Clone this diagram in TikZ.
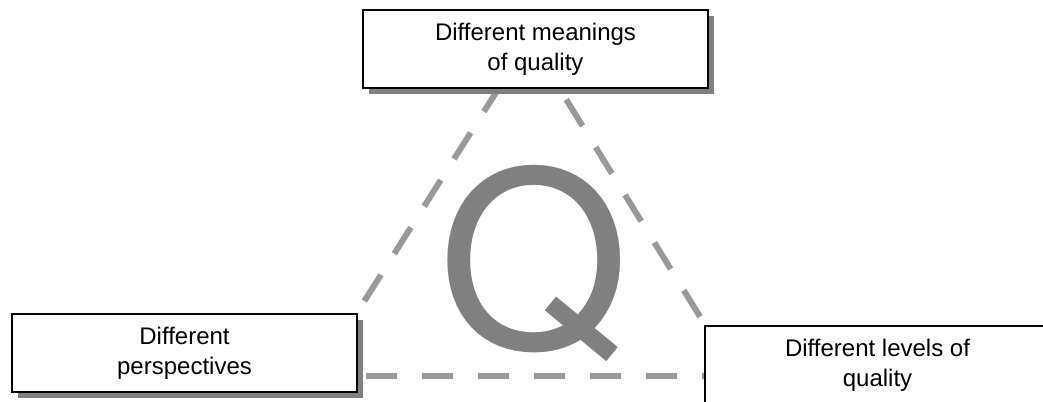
\documentclass[tikz,border=0pt]{standalone}
\usepackage{fontspec}
\setmainfont{Liberation Sans}
\newfontfamily\qfont{TeX Gyre Heros}
\usetikzlibrary{shadows,calc}
\definecolor{dashgray}{HTML}{999999}
\definecolor{qgray}{HTML}{808080}
\definecolor{shadowgray}{HTML}{808080}
\pgfdeclarelayer{background}
\pgfsetlayers{background,main}
\begin{document}
\begin{tikzpicture}[x=0.75pt,y=-0.75pt,
  box/.style={draw=black, line width=1.5pt, fill=white,
    minimum width=258.75pt, minimum height=59pt, align=center, inner sep=0pt,
    font=\fontsize{18}{22.5}\selectfont,
    drop shadow={shadow xshift=4.5pt, shadow yshift=-4.5pt, fill=shadowgray, opacity=1}},
  tri/.style={draw=dashgray, line width=4.5pt, dash pattern=on 23.25pt off 18.75pt}]
\clip (0,0) rectangle (1043,402);
\node[box] (top) at (535.5,49) {Different meanings\\of quality};
\node[box] (left) at (184.5,353) {Different\\perspectives};
\node[box] (right) at (877.5,365) {Different levels of\\quality};
\node[anchor=base, text=qgray, inner sep=0pt, font=\qfont\fontsize{184}{184}\selectfont] (q) at (534,349) {Q};
\coordinate (tl) at ($(top.south west)+(136,0)$);
\coordinate (tr) at ($(top.south west)+(198,0)$);
\coordinate (b1) at ($(left.north east)+(8,63.5)$);
\coordinate (b2) at ($(right.north west)+(0,51.5)$);
\begin{pgfonlayer}{background}
\draw[tri, dash phase=33pt] ($(left.north east)+(0,-1.5)$) -- (tl);
\draw[tri, dash phase=33pt] (tr) -- ($(right.north west)+(0,-1.5)$);
\draw[tri] (b1) -- (b2);
\end{pgfonlayer}
\end{tikzpicture}
\end{document}
